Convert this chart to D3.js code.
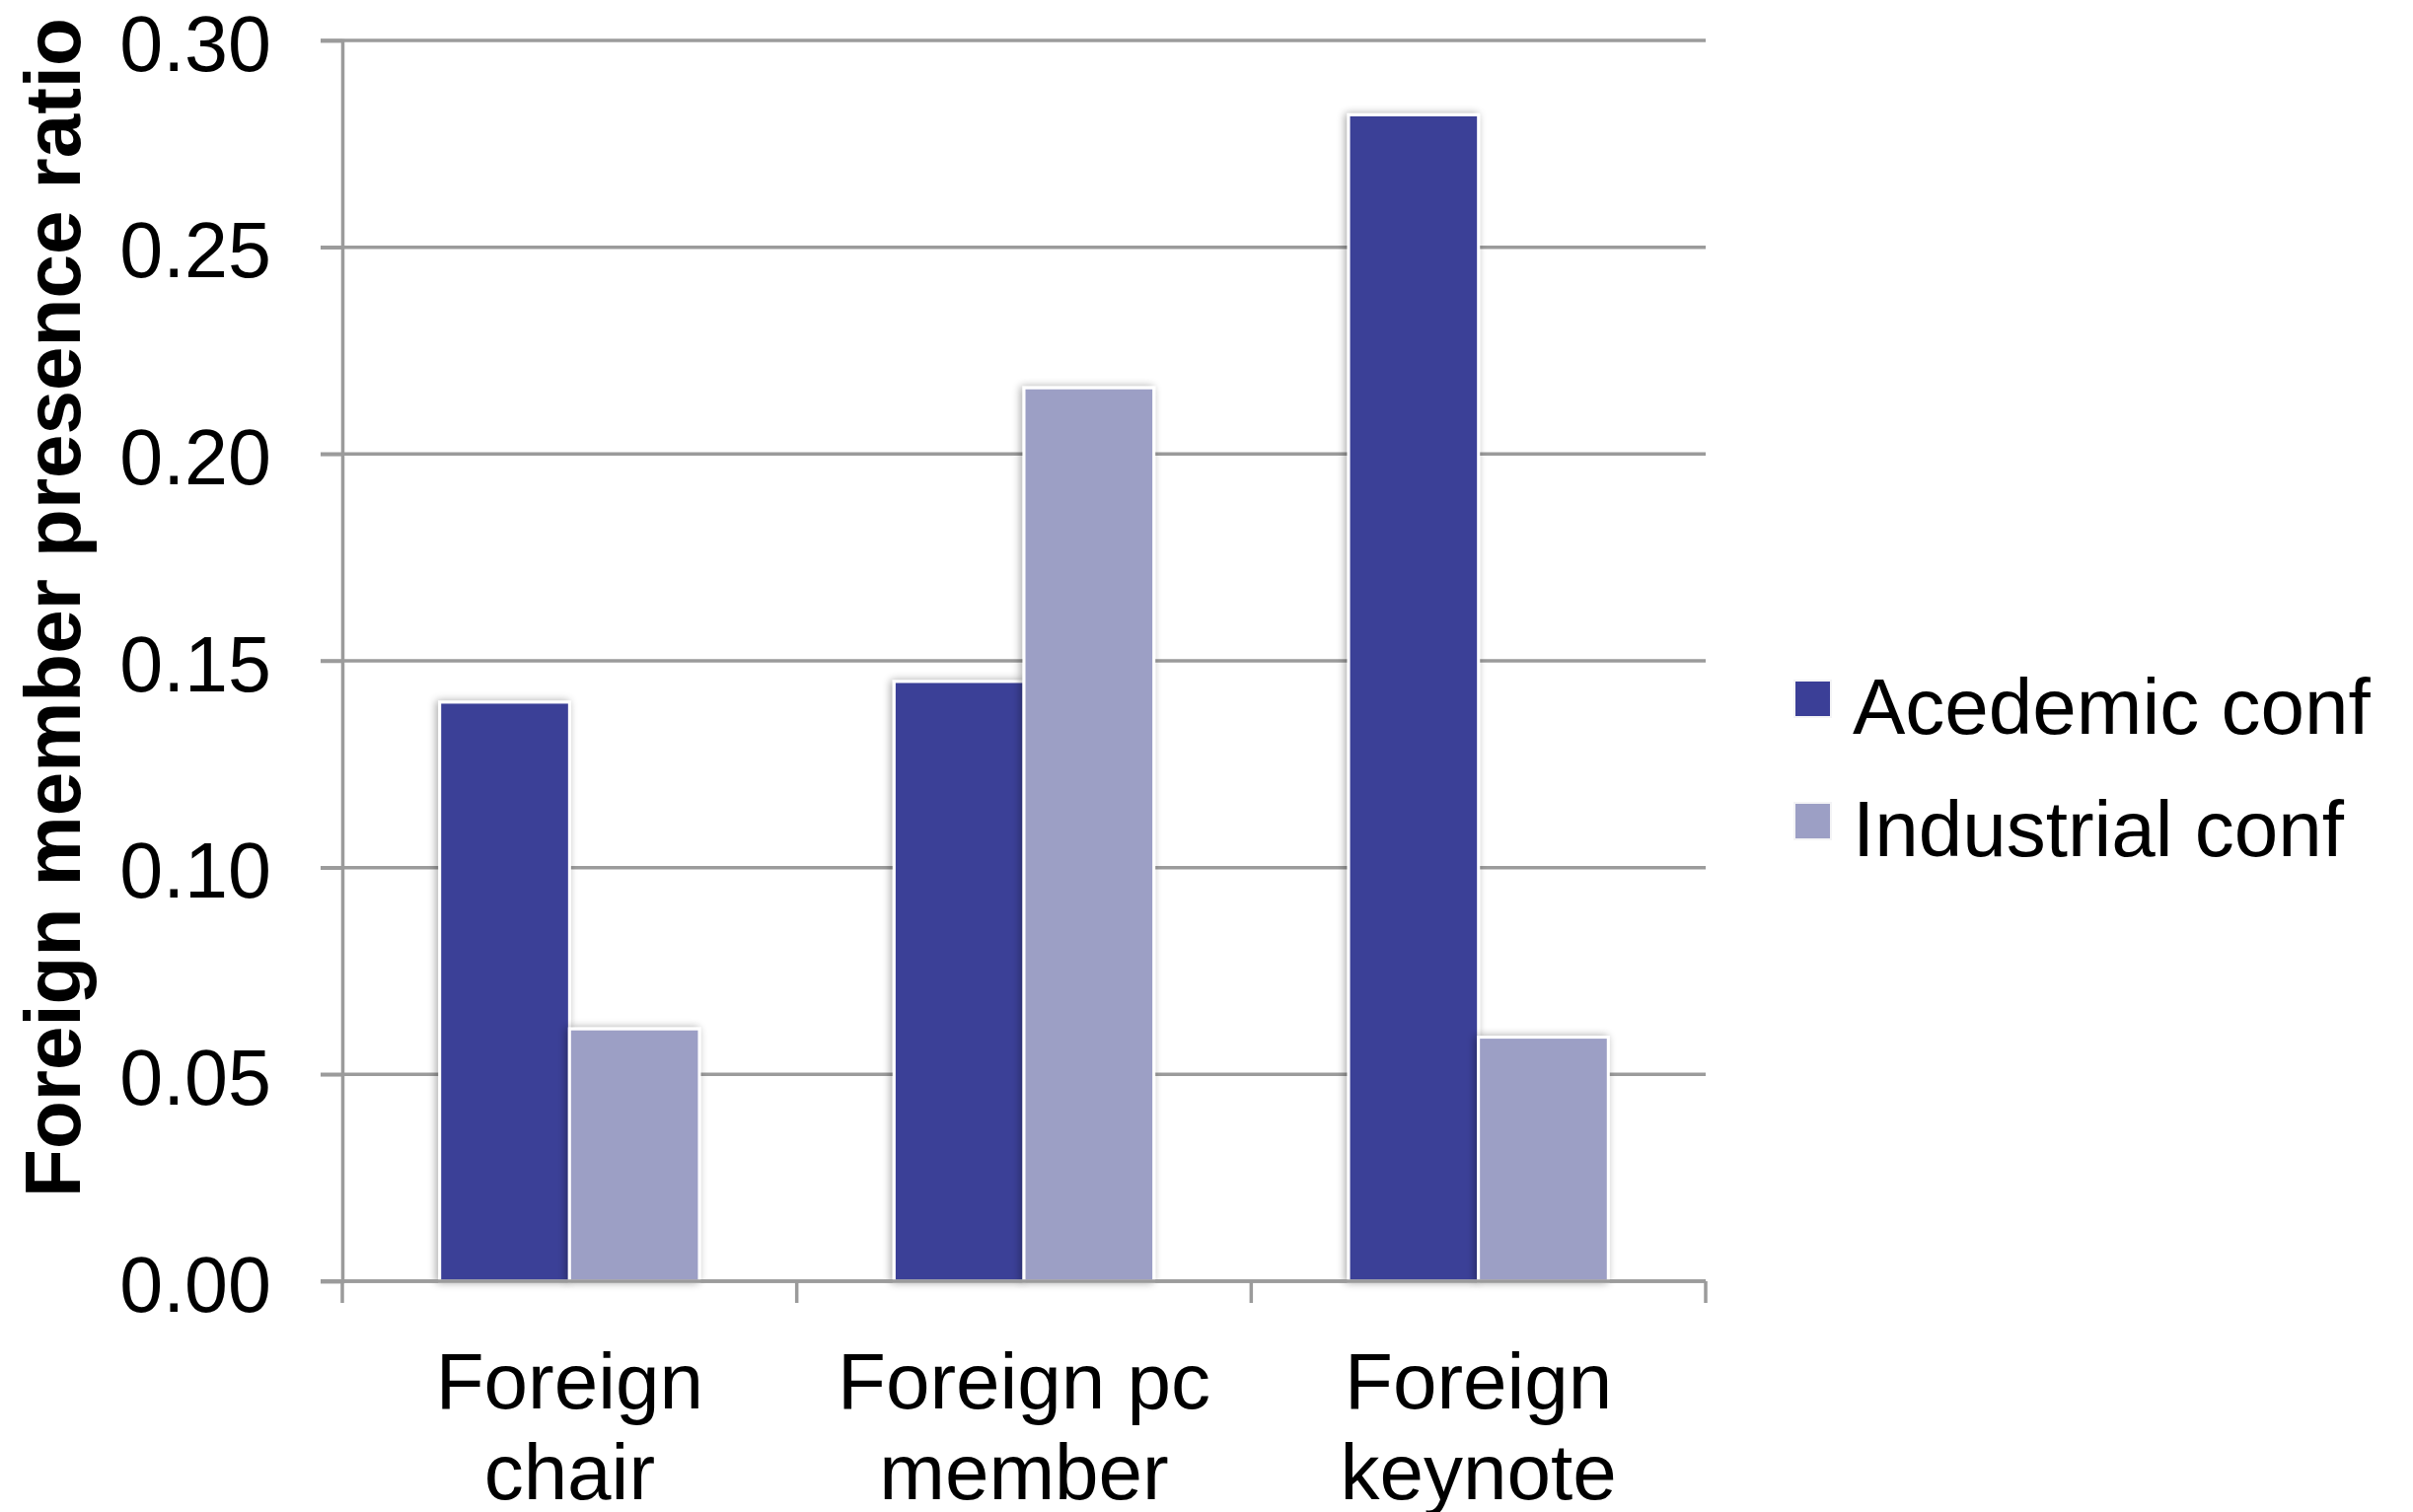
<!DOCTYPE html>
<html>
<head>
<meta charset="utf-8">
<script src="https://cdn.jsdelivr.net/npm/d3@7"></script>
<style>
  html, body { margin: 0; padding: 0; background: #fff; }
  svg { display: block; font-family: "Liberation Sans", Arial, sans-serif; }
</style>
</head>
<body>
<div id="chart"></div>
<script>
var categories = ["Foreign\nchair", "Foreign pc\nmember", "Foreign\nkeynote"];
var seriesNames = ["Acedemic conf", "Industrial conf"];
var academic = [0.140, 0.145, 0.282];
var industrial = [0.061, 0.216, 0.059];
var yTicks = [0, 0.05, 0.10, 0.15, 0.20, 0.25, 0.30];
var yTitle = "Foreign member presence ratio";

var colours = ["#3b3f97", "#9c9fc5"];
var gridColour = "#9b9b9b";

var chartW = 2446, chartH = 1533;
var plotLeft = 347, plotRight = 1729, plotTop = 41, plotBottom = 1299;

var svg = d3.select("#chart")
  .append("svg")
  .attr("width", chartW)
  .attr("height", chartH);

var defs = svg.append("defs");
var shadow = defs.append("filter")
  .attr("id", "shade")
  .attr("x", "-20%").attr("y", "-5%")
  .attr("width", "140%").attr("height", "110%");
shadow.append("feGaussianBlur").attr("in", "SourceAlpha").attr("stdDeviation", 4).attr("result", "blur");
shadow.append("feOffset").attr("dx", -2).attr("dy", 0).attr("result", "off");
shadow.append("feComponentTransfer").append("feFuncA").attr("type", "linear").attr("slope", 0.35);
var merge = shadow.append("feMerge");
merge.append("feMergeNode");
merge.append("feMergeNode").attr("in", "SourceGraphic");

var y = d3.scaleLinear().domain([0, 0.30]).range([plotBottom, plotTop]);

var x0 = d3.scaleBand()
  .domain(categories)
  .range([plotLeft, plotRight])
  .padding(0);

var x1 = d3.scaleBand()
  .domain(seriesNames)
  .range([0, x0.bandwidth()])
  .paddingInner(0)
  .paddingOuter(0.75);

// gridlines
svg.append("g")
  .selectAll("line")
  .data(yTicks)
  .enter()
  .append("line")
  .attr("x1", plotLeft - 22)
  .attr("x2", plotRight)
  .attr("y1", function(d) { return y(d); })
  .attr("y2", function(d) { return y(d); })
  .attr("stroke", gridColour)
  .attr("stroke-width", 3.5);

// y axis with labels
var yAxis = svg.append("g")
  .attr("transform", "translate(" + plotLeft + ",0)")
  .call(d3.axisLeft(y)
    .tickValues(yTicks)
    .tickFormat(d3.format(".2f"))
    .tickSize(22)
    .tickPadding(50));
yAxis.select(".domain").attr("stroke", gridColour).attr("stroke-width", 3.5);
yAxis.selectAll(".tick line").attr("stroke", gridColour).attr("stroke-width", 3.5);
yAxis.selectAll(".tick text")
  .attr("dy", "0.38em")
  .attr("fill", "#000")
  .style("font-size", "79px")
  .style("font-family", "'Liberation Sans', Arial, sans-serif");

// category boundary ticks
var bounds = categories.map(function(c) { return x0(c); }).concat([plotRight]);
svg.append("g")
  .selectAll("line")
  .data(bounds)
  .enter()
  .append("line")
  .attr("x1", function(d) { return d; })
  .attr("x2", function(d) { return d; })
  .attr("y1", plotBottom)
  .attr("y2", plotBottom + 22)
  .attr("stroke", gridColour)
  .attr("stroke-width", 3.5);

// bars
var seriesData = [academic, industrial];
var groups = svg.append("g")
  .selectAll("g")
  .data(categories)
  .enter()
  .append("g")
  .attr("transform", function(d) { return "translate(" + x0(d) + ",0)"; });

groups.selectAll("rect")
  .data(function(d, i) {
    return seriesNames.map(function(s, j) { return { name: s, value: seriesData[j][i], idx: j }; });
  })
  .enter()
  .append("rect")
  .attr("x", function(d) { return x1(d.name); })
  .attr("width", x1.bandwidth())
  .attr("y", function(d) { return y(d.value); })
  .attr("height", function(d) { return y(0) - y(d.value); })
  .attr("fill", function(d) { return colours[d.idx]; })
  .attr("stroke", "#fff")
  .attr("stroke-width", 3)
  .attr("filter", "url(#shade)");

// axis line on top of bars
svg.append("line")
  .attr("x1", plotLeft - 22)
  .attr("x2", plotRight)
  .attr("y1", y(0))
  .attr("y2", y(0))
  .attr("stroke", gridColour)
  .attr("stroke-width", 3.5);

// category labels
svg.append("g")
  .selectAll("text")
  .data(categories)
  .enter()
  .append("text")
  .attr("text-anchor", "middle")
  .attr("font-size", 80)
  .attr("fill", "#000")
  .each(function(d) {
    var t = d3.select(this);
    var cx = x0(d) + x0.bandwidth() / 2;
    d.split("\n").forEach(function(line, k) {
      t.append("tspan")
        .attr("x", cx)
        .attr("y", 1428 + k * 92)
        .text(line);
    });
  });

// y title
svg.append("text")
  .attr("transform", "translate(81," + ((plotTop + plotBottom) / 2 - 54) + ") rotate(-90)")
  .attr("text-anchor", "middle")
  .attr("font-size", 80)
  .attr("font-weight", "bold")
  .attr("fill", "#000")
  .text(yTitle);

// legend
var legend = svg.append("g")
  .selectAll("g")
  .data(seriesNames)
  .enter()
  .append("g")
  .attr("transform", function(d, i) { return "translate(1819," + (690 + i * 124) + ")"; });

legend.append("rect")
  .attr("width", 37)
  .attr("height", 37)
  .attr("fill", function(d, i) { return colours[i]; })
  .attr("stroke", "#f4f4f6")
  .attr("stroke-width", 2);

legend.append("text")
  .attr("x", 59)
  .attr("y", 54)
  .attr("font-size", 80)
  .attr("fill", "#000")
  .text(function(d) { return d; });
</script>
</body>
</html>
